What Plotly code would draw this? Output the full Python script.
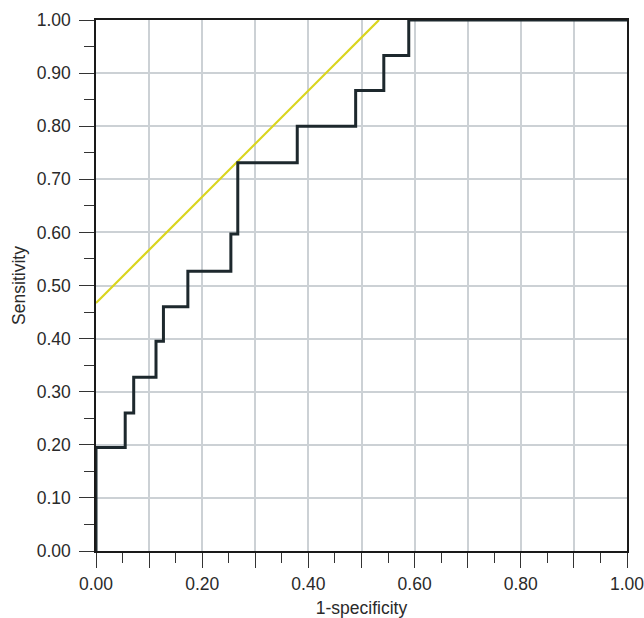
import plotly.graph_objects as go

# ROC curve points (1-specificity, sensitivity)
fpr = [0.0, 0.0, 0.055, 0.071, 0.113, 0.127, 0.173, 0.254, 0.267, 0.379, 0.489, 0.542, 0.589, 1.0]
tpr = [0.0, 0.195, 0.26, 0.327, 0.395, 0.46, 0.527, 0.597, 0.731, 0.8, 0.867, 0.933, 1.0, 1.0]

# Youden tangent line (slope 1)
tangent_x = [0.0, 0.533]
tangent_y = [0.467, 1.0]

x_tickvals = [0.0, 0.1, 0.2, 0.3, 0.4, 0.5, 0.6, 0.7, 0.8, 0.9, 1.0]
x_ticktext = ["0.00", "", "0.20", "", "0.40", "", "0.60", "", "0.80", "", "1.00"]
y_tickvals = [0.0, 0.1, 0.2, 0.3, 0.4, 0.5, 0.6, 0.7, 0.8, 0.9, 1.0]
y_ticktext = ["0.00", "0.10", "0.20", "0.30", "0.40", "0.50", "0.60", "0.70", "0.80", "0.90", "1.00"]

FONT = "Liberation Sans, Arial, sans-serif"
TXT = "#2a2a2a"
FS = 17.5

fig = go.Figure()
fig.add_trace(go.Scatter(
    x=tangent_x, y=tangent_y, mode="lines",
    line=dict(color="#dad51e", width=2.2), hoverinfo="skip", showlegend=False,
))
fig.add_trace(go.Scatter(
    x=fpr, y=tpr, mode="lines", line_shape="hv",
    line=dict(color="#1d282d", width=3), cliponaxis=False, showlegend=False,
))

axis_common = dict(
    range=[0, 1], showline=True, linecolor="#1a1a1a", linewidth=1.5, mirror=True,
    showgrid=True, gridcolor="#ccd1d5", gridwidth=2, zeroline=False,
    ticks="outside", ticklen=15, tickwidth=1.3, tickcolor="#333333",
    tickfont=dict(family=FONT, size=FS, color=TXT),
    minor=dict(dtick=0.05, tick0=0, ticks="outside", ticklen=10, tickwidth=1.3,
               tickcolor="#333333", showgrid=False),
    fixedrange=True, automargin=False, ticklabeloverflow="allow",
)

fig.update_xaxes(
    **axis_common, tickmode="array", tickvals=x_tickvals, ticktext=x_ticktext,
    ticklabelstandoff=1,
    title=dict(text="1-specificity", font=dict(family=FONT, size=FS, color=TXT), standoff=20),
)
fig.update_yaxes(
    **axis_common, tickmode="array", tickvals=y_tickvals, ticktext=y_ticktext,
    ticklabelstandoff=5,
    title=dict(text="Sensitivity", font=dict(family=FONT, size=FS, color=TXT), standoff=7),
)

fig.update_layout(
    width=644, height=618,
    margin=dict(l=96, r=17, t=20, b=67),
    paper_bgcolor="white", plot_bgcolor="white",
    font=dict(family=FONT, color=TXT),
)

fig.write_html(
    "out.html",
    config={"displayModeBar": False},
    post_script="document.body.style.margin='0';document.body.style.overflow='hidden';",
)
